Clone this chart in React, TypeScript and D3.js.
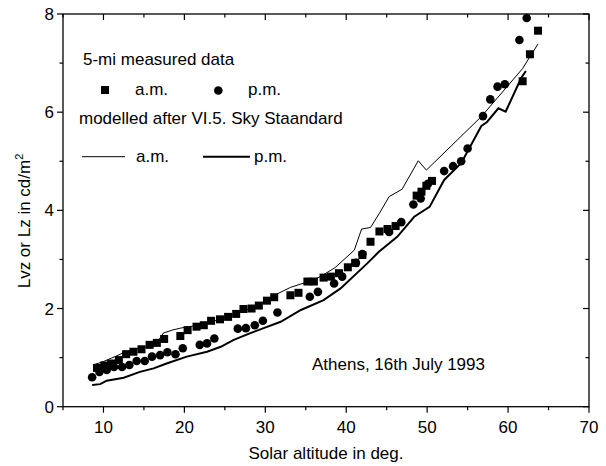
import React from "react";
import * as d3 from "d3";

const amMeasX = [9.2, 10.1, 10.95, 11.9, 12.8, 13.7, 14.7, 15.7, 16.6, 17.5, 19.5, 20.4, 21.5, 22.4, 23.3, 24.4, 25.4, 26.4, 27.3, 28.3, 29.2, 30.2, 31.1, 33.1, 34.1, 35.2, 36.0, 37.2, 38.1, 39.1, 40.2, 41.1, 42.0, 43.0, 44.1, 45.1, 46.1, 48.7, 49.3, 49.9, 50.6, 61.8, 62.7, 63.7];
const amMeasY = [0.79, 0.84, 0.88, 0.95, 1.07, 1.12, 1.17, 1.26, 1.30, 1.38, 1.44, 1.56, 1.63, 1.66, 1.75, 1.78, 1.83, 1.89, 1.99, 2.0, 2.06, 2.16, 2.23, 2.27, 2.32, 2.55, 2.55, 2.63, 2.65, 2.72, 2.84, 2.93, 3.09, 3.36, 3.57, 3.62, 3.68, 4.30, 4.38, 4.50, 4.60, 6.63, 7.18, 7.66];

const pmMeasX = [8.6, 9.5, 10.4, 11.3, 12.3, 13.2, 14.1, 15.1, 16.0, 17.0, 17.9, 18.9, 19.8, 21.9, 22.8, 23.7, 26.6, 27.6, 28.7, 29.7, 31.5, 35.5, 36.5, 38.5, 39.5, 41.2, 42.0, 45.3, 46.8, 48.3, 49.2, 50.1, 52.1, 53.2, 54.2, 55.0, 56.9, 57.8, 58.7, 59.6, 61.4, 62.3];
const pmMeasY = [0.60, 0.71, 0.75, 0.81, 0.81, 0.85, 0.93, 0.93, 1.02, 1.05, 1.11, 1.07, 1.19, 1.26, 1.29, 1.39, 1.59, 1.60, 1.66, 1.75, 1.92, 2.24, 2.34, 2.51, 2.65, 2.93, 3.11, 3.56, 3.76, 4.12, 4.24, 4.54, 4.80, 4.90, 5.00, 5.26, 5.92, 6.26, 6.52, 6.57, 7.47, 7.92];

const amModelX = [8.7, 10.0, 11.0, 12.5, 14.1, 15.5, 16.6, 17.4, 18.5, 19.5, 20.5, 22.0, 24.0, 25.7, 27.5, 29.5, 31.5, 33.1, 34.4, 35.5, 36.8, 38.6, 41.0, 41.9, 43.0, 44.1, 45.3, 46.9, 48.9, 49.9, 56.7, 61.8, 62.7, 63.7];
const amModelY = [0.85, 0.92, 0.99, 1.10, 1.18, 1.22, 1.30, 1.50, 1.56, 1.60, 1.63, 1.66, 1.76, 1.85, 1.96, 2.10, 2.30, 2.43, 2.50, 2.55, 2.65, 2.83, 3.19, 3.62, 3.65, 3.94, 4.28, 4.43, 5.01, 4.82, 5.91, 6.89, 7.13, 7.39];

const pmModelX = [8.6, 9.6, 10.4, 12.5, 14.5, 16.2, 17.8, 20.3, 22.8, 24.5, 26.1, 28.0, 29.8, 31.9, 34.4, 37.2, 39.3, 42.6, 44.0, 46.3, 48.4, 50.3, 52.1, 54.2, 56.7, 57.4, 58.8, 59.7, 61.6, 62.2];
const pmModelY = [0.44, 0.46, 0.53, 0.59, 0.71, 0.78, 0.88, 1.02, 1.12, 1.22, 1.36, 1.49, 1.60, 1.73, 1.97, 2.17, 2.41, 2.92, 3.15, 3.46, 3.87, 4.07, 4.62, 4.96, 5.72, 5.80, 6.08, 6.01, 6.69, 6.84];

const xTicks = [10, 20, 30, 40, 50, 60, 70];
const xMinor = [5, 15, 25, 35, 45, 55, 65];
const yTicks = [0, 2, 4, 6, 8];
const yMinor = [1, 3, 5, 7];

const W = 606, H = 466;
const L = 63, R = 589, T = 14, B = 406.7;
const FONT = "'Liberation Sans', Arial, sans-serif";

export default function App() {
  const x = d3.scaleLinear().domain([5, 70]).range([L, R]);
  const y = d3.scaleLinear().domain([0, 8]).range([B, T]);
  const line = d3.line<[number, number]>().x(d => x(d[0])).y(d => y(d[1]));
  const amLine = line(amModelX.map((v, i) => [v, amModelY[i]]));
  const pmLine = line(pmModelX.map((v, i) => [v, pmModelY[i]]));
  const sq = 8;
  const r = 4.3;
  const fs = 17;
  return (
    <svg width={W} height={H} style={{ position: "absolute", left: 0, top: 0, background: "#fff" }} fontFamily={FONT}>
      <rect x={0} y={0} width={W} height={H} fill="#fff" />
      {/* frame */}
      <rect x={L} y={T} width={R - L} height={B - T} fill="none" stroke="#000" strokeWidth={1.3} />
      {/* x ticks */}
      {xTicks.map(t => (
        <g key={"xt" + t}>
          <line x1={x(t)} x2={x(t)} y1={B} y2={B + 6} stroke="#000" strokeWidth={1.2} />
          <line x1={x(t)} x2={x(t)} y1={T} y2={T + 6} stroke="#000" strokeWidth={1.2} />
          <text x={x(t)} y={B + 26} textAnchor="middle" fontSize={fs}>{t}</text>
        </g>
      ))}
      {xMinor.map(t => (
        <g key={"xm" + t}>
          <line x1={x(t)} x2={x(t)} y1={B} y2={B + 3.5} stroke="#000" strokeWidth={1.2} />
          <line x1={x(t)} x2={x(t)} y1={T} y2={T + 3.5} stroke="#000" strokeWidth={1.2} />
        </g>
      ))}
      {yTicks.map(t => (
        <g key={"yt" + t}>
          <line x1={L - 6} x2={L} y1={y(t)} y2={y(t)} stroke="#000" strokeWidth={1.2} />
          <line x1={R - 6} x2={R} y1={y(t)} y2={y(t)} stroke="#000" strokeWidth={1.2} />
          <text x={L - 9} y={y(t) + 6} textAnchor="end" fontSize={fs}>{t}</text>
        </g>
      ))}
      {yMinor.map(t => (
        <g key={"ym" + t}>
          <line x1={L - 3.5} x2={L} y1={y(t)} y2={y(t)} stroke="#000" strokeWidth={1.2} />
          <line x1={R - 3.5} x2={R} y1={y(t)} y2={y(t)} stroke="#000" strokeWidth={1.2} />
        </g>
      ))}
      {/* axis labels */}
      <text x={326} y={459} textAnchor="middle" fontSize={fs}>Solar altitude in deg.</text>
      <text transform={`translate(30,221) rotate(-90)`} textAnchor="middle" fontSize={fs}>
        Lvz or Lz in cd/m<tspan dy={-7} fontSize={11}>2</tspan>
      </text>
      {/* model lines */}
      <path d={amLine || ""} fill="none" stroke="#000" strokeWidth={1} />
      <path d={pmLine || ""} fill="none" stroke="#000" strokeWidth={2} />
      {/* measured points */}
      {amMeasX.map((v, i) => (
        <rect key={"a" + i} x={x(v) - sq / 2} y={y(amMeasY[i]) - sq / 2} width={sq} height={sq} fill="#000" />
      ))}
      {pmMeasX.map((v, i) => (
        <circle key={"p" + i} cx={x(v)} cy={y(pmMeasY[i])} r={r} fill="#000" />
      ))}
      {/* legend */}
      <text x={83} y={65} fontSize={fs}>5-mi measured data</text>
      <rect x={105 - sq / 2} y={90 - sq / 2} width={sq} height={sq} fill="#000" />
      <text x={135} y={95} fontSize={fs}>a.m.</text>
      <circle cx={218.3} cy={90.5} r={r} fill="#000" />
      <text x={248} y={95} fontSize={fs}>p.m.</text>
      <text x={79} y={124} fontSize={fs}>modelled after VI.5. Sky Staandard</text>
      <line x1={82} x2={125} y1={156.7} y2={156.7} stroke="#000" strokeWidth={1} />
      <text x={136} y={162} fontSize={fs}>a.m.</text>
      <line x1={203} x2={250} y1={156.7} y2={156.7} stroke="#000" strokeWidth={2} />
      <text x={254} y={162} fontSize={fs}>p.m.</text>
      <text x={312} y={370} fontSize={fs}>Athens, 16th July 1993</text>
    </svg>
  );
}
